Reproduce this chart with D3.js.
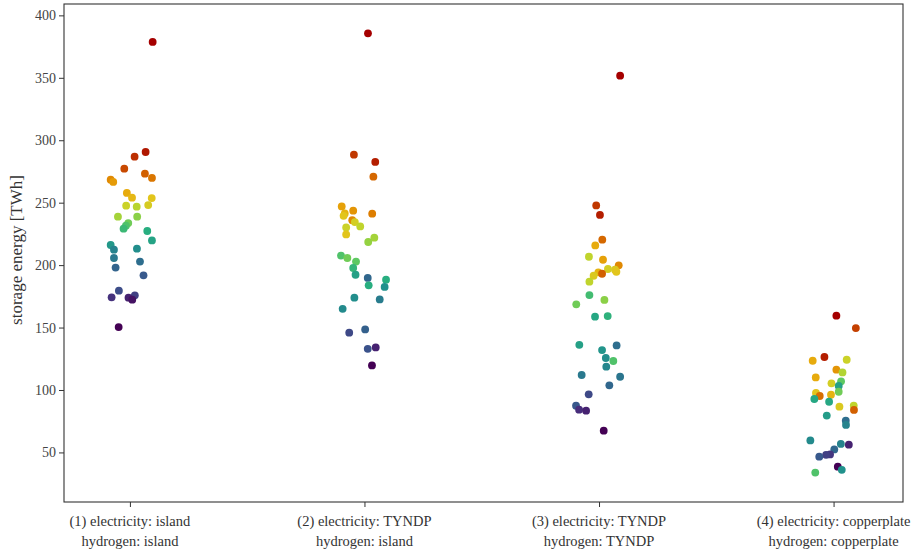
<!DOCTYPE html>
<html>
<head>
<meta charset="utf-8">
<script src="https://cdn.jsdelivr.net/npm/d3@7"></script>
<style>
  body { margin: 0; background: #fff; }
  svg { display: block; }
</style>
</head>
<body>
<svg id="chart" width="912" height="554"></svg>
<script>
// ---- data ----
const categories = [
  ["(1) electricity: island", "hydrogen: island"],
  ["(2) electricity: TYNDP", "hydrogen: island"],
  ["(3) electricity: TYNDP", "hydrogen: TYNDP"],
  ["(4) electricity: copperplate", "hydrogen: copperplate"]
];
const yTicks = [50, 100, 150, 200, 250, 300, 350, 400];

const values1 = [378.7, 290.6, 286.8, 277.2, 273.2, 269.8, 268.4, 266.6, 257.8, 254.0, 253.7, 248.1, 247.6, 246.8, 238.8, 238.8, 233.7, 231.6, 229.2, 227.3, 219.8, 216.1, 213.2, 212.4, 205.7, 202.8, 198.0, 191.8, 179.5, 175.8, 174.2, 173.9, 172.3, 150.4];
const jitter1 = [0.097, 0.067, 0.020, -0.024, 0.064, 0.094, -0.082, -0.071, -0.013, 0.009, 0.093, 0.078, -0.016, 0.029, -0.051, 0.031, -0.007, -0.017, -0.027, 0.074, 0.094, -0.082, 0.030, -0.068, -0.068, 0.043, -0.061, 0.058, -0.047, 0.021, -0.078, -0.006, 0.010, -0.048];
const colorKey1 = [1.00, 0.97, 0.94, 0.91, 0.88, 0.85, 0.82, 0.79, 0.76, 0.73, 0.70, 0.67, 0.64, 0.61, 0.58, 0.55, 0.52, 0.48, 0.45, 0.42, 0.39, 0.36, 0.33, 0.30, 0.27, 0.24, 0.21, 0.18, 0.15, 0.12, 0.09, 0.06, 0.03, 0.00];

const values2 = [385.6, 288.4, 282.6, 270.8, 247.0, 243.6, 241.2, 241.4, 239.5, 236.0, 234.5, 231.0, 230.2, 224.6, 222.0, 218.5, 207.6, 205.7, 202.8, 197.7, 192.3, 189.7, 188.3, 183.8, 182.5, 173.9, 172.5, 165.0, 148.5, 145.9, 134.1, 133.0, 119.7];
const jitter2 = [0.015, -0.045, 0.046, 0.038, -0.097, -0.048, 0.033, -0.084, -0.089, -0.052, -0.041, -0.018, -0.078, -0.078, 0.042, 0.016, -0.100, -0.073, -0.036, -0.048, -0.038, 0.014, 0.092, 0.018, 0.086, -0.043, 0.065, -0.093, 0.003, -0.065, 0.048, 0.014, 0.032];
const colorKey2 = [1.00, 0.93, 0.96, 0.87, 0.78, 0.80, 0.84, 0.74, 0.70, 0.82, 0.66, 0.62, 0.64, 0.70, 0.58, 0.56, 0.48, 0.52, 0.50, 0.44, 0.38, 0.22, 0.42, 0.42, 0.34, 0.33, 0.28, 0.32, 0.20, 0.14, 0.06, 0.16, 0.00];

const values3 = [351.7, 247.8, 240.2, 220.4, 215.8, 206.7, 204.3, 199.8, 196.9, 196.3, 194.7, 194.2, 193.1, 191.5, 186.7, 176.0, 172.1, 168.6, 158.7, 159.2, 136.2, 135.7, 132.0, 125.6, 123.2, 118.7, 112.0, 110.6, 103.7, 96.5, 87.4, 84.2, 83.4, 67.4];
const jitter3 = [0.090, -0.012, 0.004, 0.014, -0.016, -0.043, 0.017, 0.084, 0.038, 0.068, 0.074, -0.003, 0.013, -0.023, -0.041, -0.041, 0.023, -0.097, -0.017, 0.037, -0.084, 0.075, 0.013, 0.029, 0.061, 0.031, -0.074, 0.090, 0.044, -0.044, -0.098, -0.085, -0.055, 0.020];
const colorKey3 = [1.00, 0.93, 0.96, 0.87, 0.76, 0.62, 0.78, 0.82, 0.66, 0.68, 0.70, 0.74, 0.88, 0.68, 0.62, 0.46, 0.55, 0.52, 0.40, 0.43, 0.38, 0.24, 0.35, 0.33, 0.48, 0.31, 0.27, 0.26, 0.22, 0.14, 0.18, 0.08, 0.06, 0.00];

const values4 = [159.5, 149.6, 126.4, 123.4, 124.2, 116.3, 114.1, 110.1, 105.3, 106.9, 103.2, 98.6, 97.6, 95.2, 96.2, 92.8, 90.6, 86.6, 87.5, 84.0, 79.5, 75.4, 72.0, 59.6, 56.8, 56.2, 52.4, 48.4, 48.1, 46.6, 38.6, 36.1, 33.9];
const jitter4 = [0.012, 0.095, -0.039, -0.089, 0.056, 0.012, 0.038, -0.076, -0.009, 0.032, 0.022, 0.022, -0.075, -0.059, -0.011, -0.082, -0.019, 0.025, 0.086, 0.087, -0.029, 0.052, 0.053, -0.099, 0.031, 0.065, 0.003, -0.015, -0.032, -0.061, 0.018, 0.035, -0.078];
const colorKey4 = [1.00, 0.92, 0.96, 0.76, 0.64, 0.80, 0.60, 0.76, 0.66, 0.50, 0.38, 0.52, 0.70, 0.86, 0.74, 0.40, 0.40, 0.68, 0.62, 0.88, 0.37, 0.24, 0.30, 0.32, 0.30, 0.06, 0.22, 0.10, 0.12, 0.18, 0.00, 0.34, 0.48];

const seriesValues = [values1, values2, values3, values4];
const seriesJitter = [jitter1, jitter2, jitter3, jitter4];
const seriesColor = [colorKey1, colorKey2, colorKey3, colorKey4];

// ---- layout ----
const svg = d3.select("#chart");
const pLeft = 64, pRight = 903, pTop = 4, pBottom = 502;
const font = "'Liberation Serif', 'Times New Roman', serif";

const x = d3.scaleLinear().domain([-0.281, 3.296]).range([pLeft, pRight]);
const y = d3.scaleLinear().domain([10.3, 409.1]).range([pBottom, pTop]);

const color = d3.scaleLinear()
  .domain([0.00, 0.08, 0.16, 0.25, 0.34, 0.42, 0.50, 0.57, 0.63, 0.70, 0.77, 0.84, 0.90, 0.95, 1.00])
  .range(["#440154", "#472d7b", "#3b528b", "#2c728e", "#21918c", "#28ae80", "#5ec962", "#9dd33c", "#c7d42a", "#e2c51c", "#e8a70b", "#dd7d00", "#cc5200", "#b82600", "#a50000"])
  .interpolate(d3.interpolateRgb);

// points
const points = [];
seriesValues.forEach((vals, ci) => {
  vals.forEach((v, i) => {
    points.push({ cat: ci, value: v, jit: seriesJitter[ci][i], key: seriesColor[ci][i] });
  });
});

svg.append("g")
  .selectAll("circle")
  .data(points)
  .join("circle")
  .attr("cx", d => x(d.cat + d.jit))
  .attr("cy", d => y(d.value))
  .attr("r", 3.9)
  .attr("fill", d => color(d.key));

// frame
svg.append("rect")
  .attr("x", pLeft).attr("y", pTop)
  .attr("width", pRight - pLeft).attr("height", pBottom - pTop)
  .attr("fill", "none").attr("stroke", "#333").attr("stroke-width", 1.1);

// y axis
const yAxis = svg.append("g")
  .attr("transform", `translate(${pLeft},0)`)
  .call(d3.axisLeft(y).tickValues(yTicks).tickSize(5).tickSizeOuter(0).tickPadding(3));
yAxis.select(".domain").remove();
yAxis.selectAll(".tick line").attr("stroke", "#333");
yAxis.selectAll(".tick text").attr("fill", "#444").style("font-family", font).style("font-size", "14px");

// x axis
const xAxis = svg.append("g")
  .attr("transform", `translate(0,${pBottom})`)
  .call(d3.axisBottom(x).tickValues([0, 1, 2, 3]).tickSize(5).tickSizeOuter(0).tickFormat(() => ""));
xAxis.select(".domain").remove();
xAxis.selectAll(".tick line").attr("stroke", "#333");

const labels = svg.append("g");
categories.forEach((lines, i) => {
  const t = labels.append("text")
    .attr("x", x(i))
    .attr("y", 526)
    .attr("text-anchor", "middle")
    .attr("fill", "#333")
    .style("font-family", font)
    .style("font-size", "14.5px");
  lines.forEach((ln, j) => {
    t.append("tspan").attr("x", x(i)).attr("dy", j === 0 ? 0 : 19.5).text(ln);
  });
});

// y label
svg.append("text")
  .attr("transform", `translate(22,${(pTop + pBottom) / 2 - 3}) rotate(-90)`)
  .attr("text-anchor", "middle")
  .attr("fill", "#333")
  .style("font-family", font)
  .style("font-size", "17px")
  .text("storage energy [TWh]");
</script>
</body>
</html>
